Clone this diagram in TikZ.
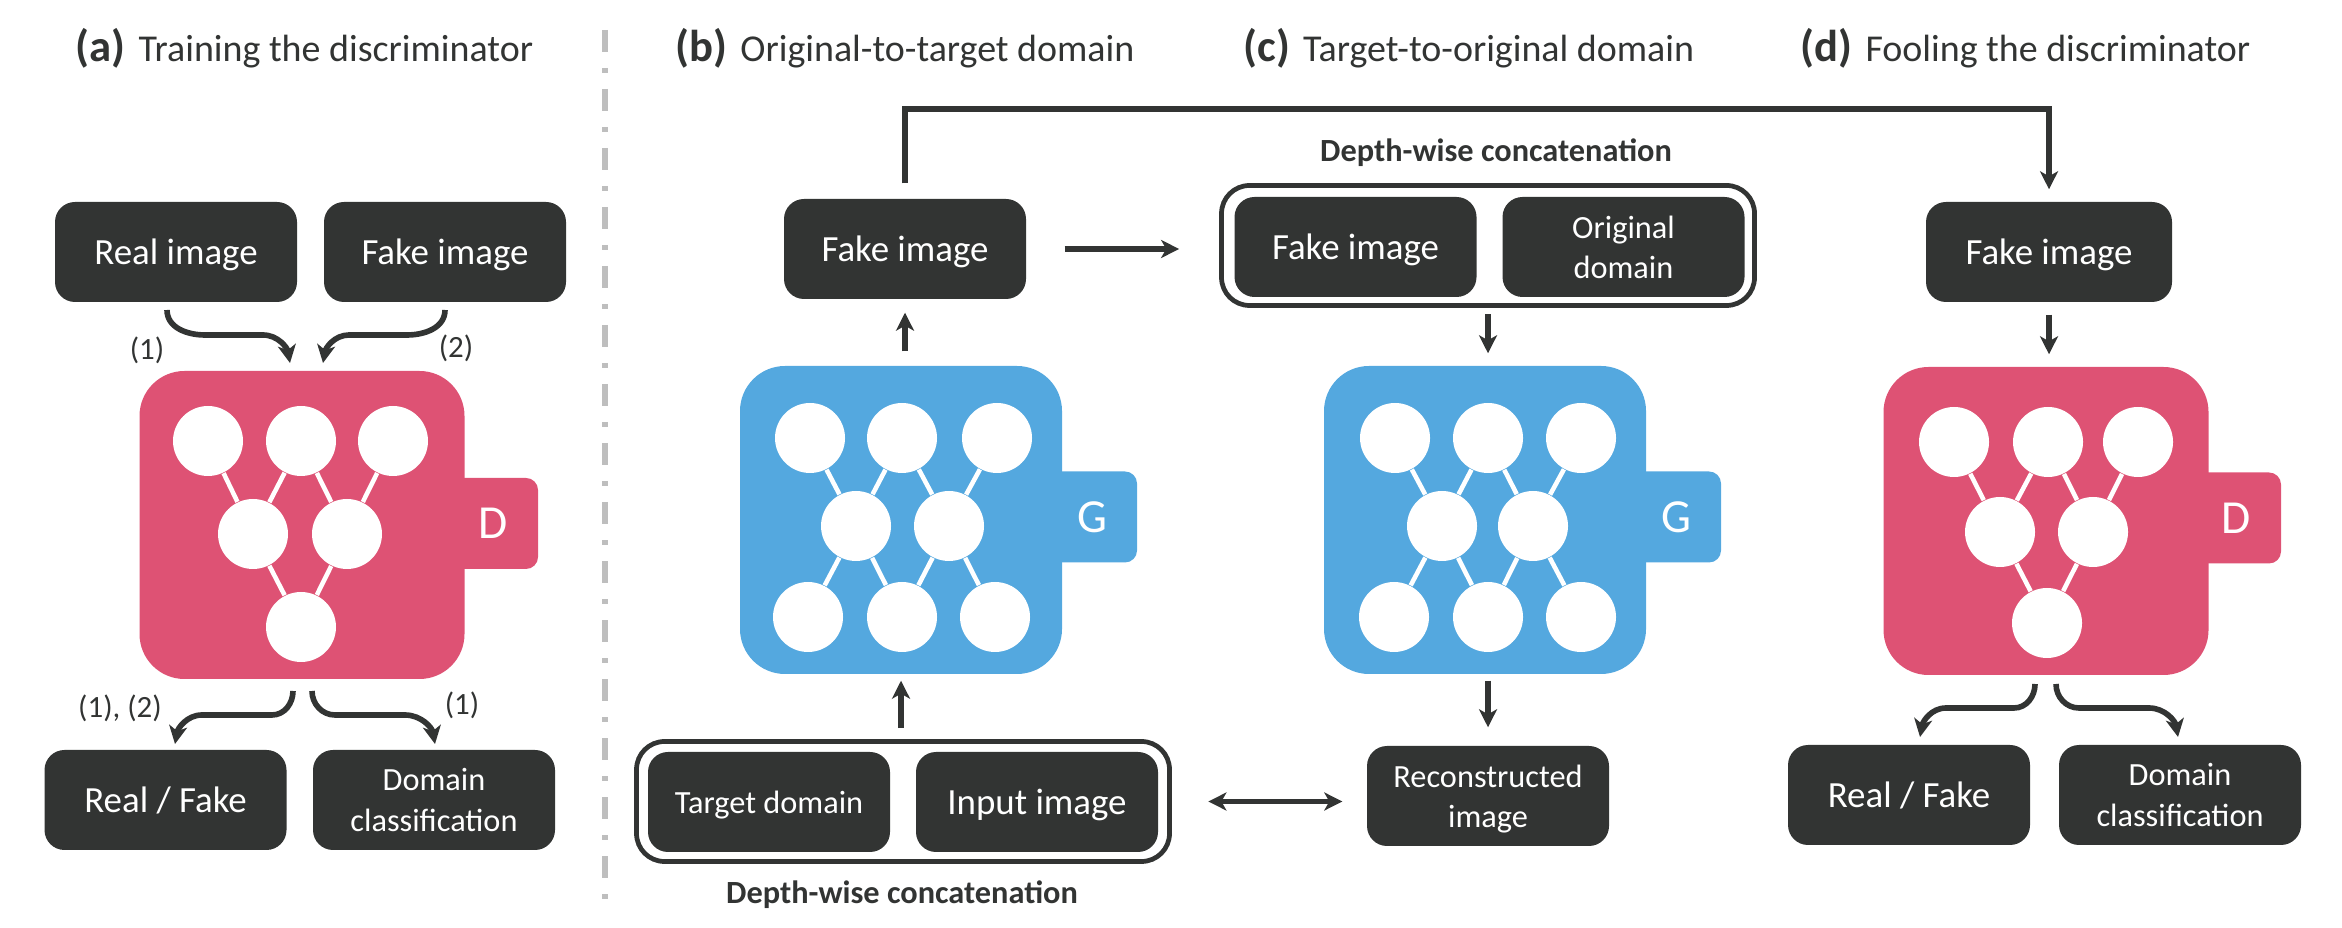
\documentclass[tikz,border=0pt]{standalone}
\usepackage{fontspec}
\usetikzlibrary{arrows.meta}
\setmainfont{Carlito}
\definecolor{boxdark}{HTML}{323433}
\definecolor{netred}{HTML}{DE5274}
\definecolor{netblue}{HTML}{54A8DF}
\definecolor{rulegray}{HTML}{BEBEBE}
\tikzset{
	databox/.style={draw=none,fill=boxdark,text=white,rounded corners=0.2cm,minimum width=2.42cm,minimum height=1cm,inner sep=0pt,align=center,text depth=0pt,font=\fontsize{10.5}{13}\selectfont},
	smallbox/.style={databox,font=\fontsize{9.2}{11.5}\selectfont},
	groupbox/.style={draw=boxdark,line width=1.35pt,rounded corners=0.28cm,inner sep=0pt,minimum width=5.33cm,minimum height=1.2cm},
	netred/.style={fill=netred,rounded corners=0.45cm,minimum width=3.25cm,minimum height=3.08cm,inner sep=0pt},
	netblue/.style={fill=netblue,rounded corners=0.45cm,minimum width=3.22cm,minimum height=3.08cm,inner sep=0pt},
	tabred/.style={fill=netred,text=white,rounded corners=0.12cm,minimum width=0.9cm,minimum height=0.91cm,inner sep=0pt,font=\fontsize{13.5}{15}\selectfont},
	tabblue/.style={tabred,fill=netblue},
	unit/.style={circle,fill=white,minimum size=0.7cm,inner sep=0pt},
	wire/.style={white,line width=1.3pt},
	arr/.style={->,>={Stealth[length=1.8mm,width=1.8mm,inset=0.5mm]},boxdark,line width=1.6pt},
	title/.style={anchor=base west,text=boxdark,inner sep=0pt,font=\fontsize{10.8}{13}\selectfont},
	note/.style={text=boxdark,inner sep=0pt,font=\fontsize{8.8}{11}\selectfont},
	concat/.style={text=boxdark,inner sep=0pt,font=\fontsize{9.2}{11}\selectfont\bfseries},
}
\newcommand{\tlabel}[1]{{\fontsize{12.7}{13}\selectfont\bfseries #1}\hspace{0.13cm}}
\begin{document}
\begin{tikzpicture}
	\useasboundingbox (0,0) rectangle (23.42,-9.28);
	% divider
	\draw[rulegray,line width=1.7pt,dash pattern=on 0.22cm off 0.16cm on 0.05cm off 0.16cm] (6.05,-0.3) coordinate (rule1) -- (6.05,-9.0) coordinate (rule2);
	% headings
	\node[title] (ta) at (0.75,-0.62) {\tlabel{(a)}Training the discriminator};
	\node[title] (tb) at (6.75,-0.62) {\tlabel{(b)}Original-to-target domain};
	\node[title] (tc) at (12.43,-0.62) {\tlabel{(c)}Target-to-original domain};
	\node[title] (td) at (18.0,-0.62) {\tlabel{(d)}Fooling the discriminator};
	% panel a
	\node[databox] (reala) at (1.76,-2.52) {Real image};
	\node[databox] (fakea) at (4.45,-2.52) {Fake image};
	\node[tabred] (taba) at (4.93,-5.235) {D};
	\node[netred] (neta) at (3.02,-5.25) {};
	\node[unit] (a1) at (2.08,-4.41) {};
	\node[unit] (a2) at (3.01,-4.41) {};
	\node[unit] (a3) at (3.93,-4.41) {};
	\node[unit] (a4) at (2.53,-5.34) {};
	\node[unit] (a5) at (3.47,-5.34) {};
	\node[unit] (a6) at (3.01,-6.27) {};
	\draw (a1) edge [wire] (a4);
	\draw (a2) edge [wire] (a4);
	\draw (a2) edge [wire] (a5);
	\draw (a3) edge [wire] (a5);
	\draw (a4) edge [wire] (a6);
	\draw (a5) edge [wire] (a6);
	\node[databox] (rfa) at (1.655,-8.0) {Real / Fake};
	\node[smallbox] (doma) at (4.34,-8.0) {Domain\\classification};
	\coordinate (as1) at (1.67,-3.1);
	\coordinate (ae1) at (2.9,-3.63);
	\coordinate (as2) at (4.45,-3.1);
	\coordinate (ae2) at (3.23,-3.63);
	\coordinate (as3) at (2.93,-6.91);
	\coordinate (ae3) at (1.75,-7.44);
	\coordinate (as4) at (3.12,-6.91);
	\coordinate (ae4) at (4.35,-7.44);
	\draw[arr] (as1) to[out=-90,in=180] ++(0.38,-0.25) -- ++(0.58,0) to[out=0,in=100] (ae1);
	\draw[arr] (as2) to[out=-90,in=0] ++(-0.38,-0.25) -- ++(-0.58,0) to[out=180,in=80] (ae2);
	\draw[arr] (as3) to[out=-90,in=0] ++(-0.21,-0.24) -- ++(-0.7,0) to[out=180,in=80] (ae3);
	\draw[arr] (as4) to[out=-90,in=180] ++(0.23,-0.24) -- ++(0.7,0) to[out=0,in=100] (ae4);
	\node[note] (n1) at (1.47,-3.5) {(1)};
	\node[note] (n2) at (4.56,-3.48) {(2)};
	\node[note] (n3) at (1.2,-7.08) {(1), (2)};
	\node[note] (n4) at (4.62,-7.05) {(1)};
	% panel b
	\node[databox] (fakeb) at (9.05,-2.49) {Fake image};
	\node[tabblue] (tabb) at (10.92,-5.17) {G};
	\node[netblue] (netb) at (9.01,-5.2) {};
	\node[unit] (b1) at (8.1,-4.38) {};
	\node[unit] (b2) at (9.02,-4.38) {};
	\node[unit] (b3) at (9.97,-4.38) {};
	\node[unit] (b4) at (8.56,-5.26) {};
	\node[unit] (b5) at (9.49,-5.26) {};
	\node[unit] (b6) at (8.08,-6.17) {};
	\node[unit] (b7) at (9.02,-6.17) {};
	\node[unit] (b8) at (9.95,-6.17) {};
	\draw (b1) edge [wire] (b4);
	\draw (b2) edge [wire] (b4);
	\draw (b2) edge [wire] (b5);
	\draw (b3) edge [wire] (b5);
	\draw (b4) edge [wire] (b6);
	\draw (b4) edge [wire] (b7);
	\draw (b5) edge [wire] (b7);
	\draw (b5) edge [wire] (b8);
	\node[groupbox] (groupb) at (9.03,-8.015) {};
	\node[smallbox] (targetb) at (7.69,-8.02) {Target domain};
	\node[databox] (inputb) at (10.37,-8.02) {Input image};
	\node[concat] (cb) at (9.02,-8.95) {Depth-wise concatenation};
	\draw[arr,shorten <=0.11cm,shorten >=0.06cm] (groupb.north -| netb.south) -- (netb.south);
	\draw[arr,shorten <=0.14cm,shorten >=0.13cm] (netb.north -| fakeb.south) -- (fakeb.south);
	% panel c
	\node[groupbox] (groupc) at (14.88,-2.455) {};
	\node[databox] (fakec) at (13.555,-2.47) {Fake image};
	\node[smallbox] (origc) at (16.235,-2.47) {Original\\domain};
	\node[concat] (cc) at (14.96,-1.53) {Depth-wise concatenation};
	\node[tabblue] (tabc) at (16.76,-5.17) {G};
	\node[netblue] (netc) at (14.85,-5.2) {};
	\node[unit] (c1) at (13.95,-4.38) {};
	\node[unit] (c2) at (14.88,-4.38) {};
	\node[unit] (c3) at (15.81,-4.38) {};
	\node[unit] (c4) at (14.42,-5.26) {};
	\node[unit] (c5) at (15.33,-5.26) {};
	\node[unit] (c6) at (13.94,-6.17) {};
	\node[unit] (c7) at (14.88,-6.17) {};
	\node[unit] (c8) at (15.81,-6.17) {};
	\draw (c1) edge [wire] (c4);
	\draw (c2) edge [wire] (c4);
	\draw (c2) edge [wire] (c5);
	\draw (c3) edge [wire] (c5);
	\draw (c4) edge [wire] (c6);
	\draw (c4) edge [wire] (c7);
	\draw (c5) edge [wire] (c7);
	\draw (c5) edge [wire] (c8);
	\node[smallbox] (recon) at (14.88,-7.96) {Reconstructed\\image};
	\draw[arr,shorten <=0.065cm,shorten >=0.12cm] (groupc.south -| c7) -- (netc.north -| c7);
	\draw[arr,shorten <=0.06cm,shorten >=0.18cm] (netc.south -| c7) -- (recon.north -| c7);
	\draw[arr,shorten <=0.38cm,shorten >=0.4cm] (fakeb.east) -- (fakeb.east -| groupc.west);
	\draw[arr,<->,shorten <=0.365cm,shorten >=0.24cm] (groupb.east) -- (groupb.east -| recon.west);
	% panel d
	\coordinate (topd) at (20.49,-1.09);
	\node[databox,minimum width=2.46cm] (faked) at (20.49,-2.52) {Fake image};
	\draw[arr,shorten <=0.15cm,shorten >=0.12cm] (fakeb.north) |- (topd) -- (faked.north);
	\node[tabred] (tabd) at (22.36,-5.18) {D};
	\node[netred] (netd) at (20.46,-5.21) {};
	\node[unit] (d1) at (19.54,-4.42) {};
	\node[unit] (d2) at (20.48,-4.42) {};
	\node[unit] (d3) at (21.38,-4.42) {};
	\node[unit] (d4) at (20.0,-5.32) {};
	\node[unit] (d5) at (20.93,-5.32) {};
	\node[unit] (d6) at (20.47,-6.23) {};
	\draw (d1) edge [wire] (d4);
	\draw (d2) edge [wire] (d4);
	\draw (d2) edge [wire] (d5);
	\draw (d3) edge [wire] (d5);
	\draw (d4) edge [wire] (d6);
	\draw (d5) edge [wire] (d6);
	\draw[arr,shorten <=0.12cm,shorten >=0.12cm] (faked.south) -- (netd.north -| faked.south);
	\node[databox] (rfd) at (19.09,-7.95) {Real / Fake};
	\node[smallbox] (domd) at (21.8,-7.95) {Domain\\classification};
	\coordinate (ds1) at (20.35,-6.84);
	\coordinate (de1) at (19.2,-7.37);
	\coordinate (ds2) at (20.56,-6.84);
	\coordinate (de2) at (21.78,-7.37);
	\draw[arr] (ds1) to[out=-90,in=0] ++(-0.21,-0.24) -- ++(-0.68,0) to[out=180,in=80] (de1);
	\draw[arr] (ds2) to[out=-90,in=180] ++(0.23,-0.24) -- ++(0.7,0) to[out=0,in=100] (de2);
\end{tikzpicture}
\end{document}
